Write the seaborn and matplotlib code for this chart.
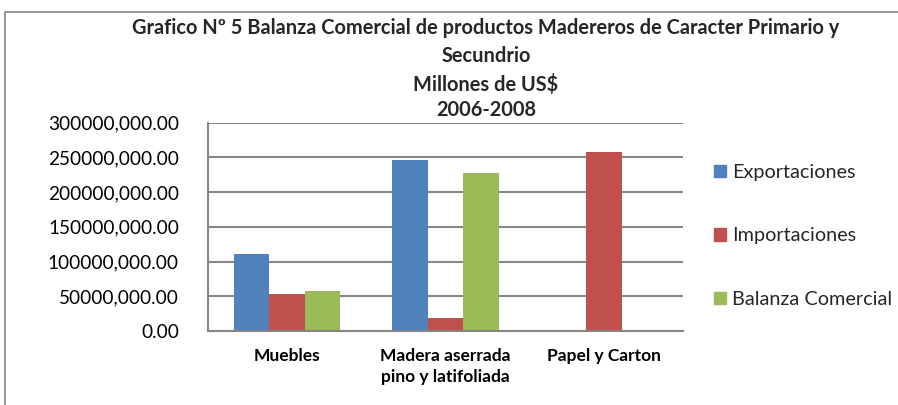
import matplotlib
matplotlib.use("Agg")
import matplotlib.pyplot as plt
import matplotlib.patches as mpatches
from matplotlib.ticker import FuncFormatter, MultipleLocator
import seaborn as sns
import pandas as pd

categories = ["Muebles", "Madera aserrada\npino y latifoliada", "Papel y Carton"]
series = ["Exportaciones", "Importaciones", "Balanza Comercial"]
exportaciones = [110.8e6, 246.0e6, 0.0]
importaciones = [53.7e6, 19.2e6, 258.0e6]
balanza = [57.1e6, 226.8e6, 0.0]
colors = ["#4F81BD", "#C0504D", "#9BBB59"]
title_lines = ["Grafico Nº 5 Balanza Comercial de productos Madereros de Caracter Primario y",
               "Secundrio", "Millones de US$", "2006-2008"]

rows = []
for name, vals in zip(series, [exportaciones, importaciones, balanza]):
    for c, v in zip(categories, vals):
        rows.append({"cat": c, "serie": name, "valor": v})
df = pd.DataFrame(rows)

sns.set_theme(style="white")
plt.rcParams["font.family"] = ["Lato", "DejaVu Sans"]

fig = plt.figure(figsize=(8.98, 4.05), dpi=100)
ax = fig.add_axes([208/898, 1-331/405, (683-208)/898, (331-122.5)/405])

sns.barplot(data=df, x="cat", y="valor", hue="serie", order=categories,
            hue_order=series, palette=colors, width=0.67, gap=0,
            saturation=1, ax=ax, legend=False, edgecolor="none")

ax.set_ylim(0, 300e6)
ax.yaxis.set_major_locator(MultipleLocator(50e6))
ax.yaxis.set_major_formatter(FuncFormatter(
    lambda v, p: "0.00" if v == 0 else f"{int(round(v/1000))},000.00"))
ax.grid(axis="y", color="#868686", linewidth=1.5)
ax.set_axisbelow(True)
for s in ["top", "right"]:
    ax.spines[s].set_visible(False)
for s in ["left", "bottom"]:
    ax.spines[s].set_color("#868686")
    ax.spines[s].set_linewidth(1.5)
ax.tick_params(axis="y", length=0, pad=21, labelsize=13.7, colors="black")
ax.tick_params(axis="x", length=0, pad=12, labelsize=12.5, colors="black")
for lab in ax.get_xticklabels():
    lab.set_fontweight("bold")
    lab.set_linespacing(1.4)
ax.set_xlabel("")
ax.set_ylabel("")

handles = [mpatches.Patch(color=c) for c in colors]
ax.legend(handles, series, loc="center left", bbox_to_anchor=(696/898, 1-236/405),
          bbox_transform=fig.transFigure, frameon=False, fontsize=14.3,
          handlelength=0.6, handleheight=0.6, handletextpad=0.3, labelspacing=2.35)

for line, yc in zip(title_lines, [28, 56, 84, 110]):
    fig.text(486/898, 1-yc/405, line, ha="center", va="center", fontsize=14.4,
             fontweight="bold")

fig.add_artist(mpatches.Rectangle((5/898, -0.2), 1.2, 1.2 + 1 - 12/405 - 1,
                                  transform=fig.transFigure, fill=False,
                                  edgecolor="#868686", linewidth=1.2))

fig.savefig("out.png", dpi=100)
